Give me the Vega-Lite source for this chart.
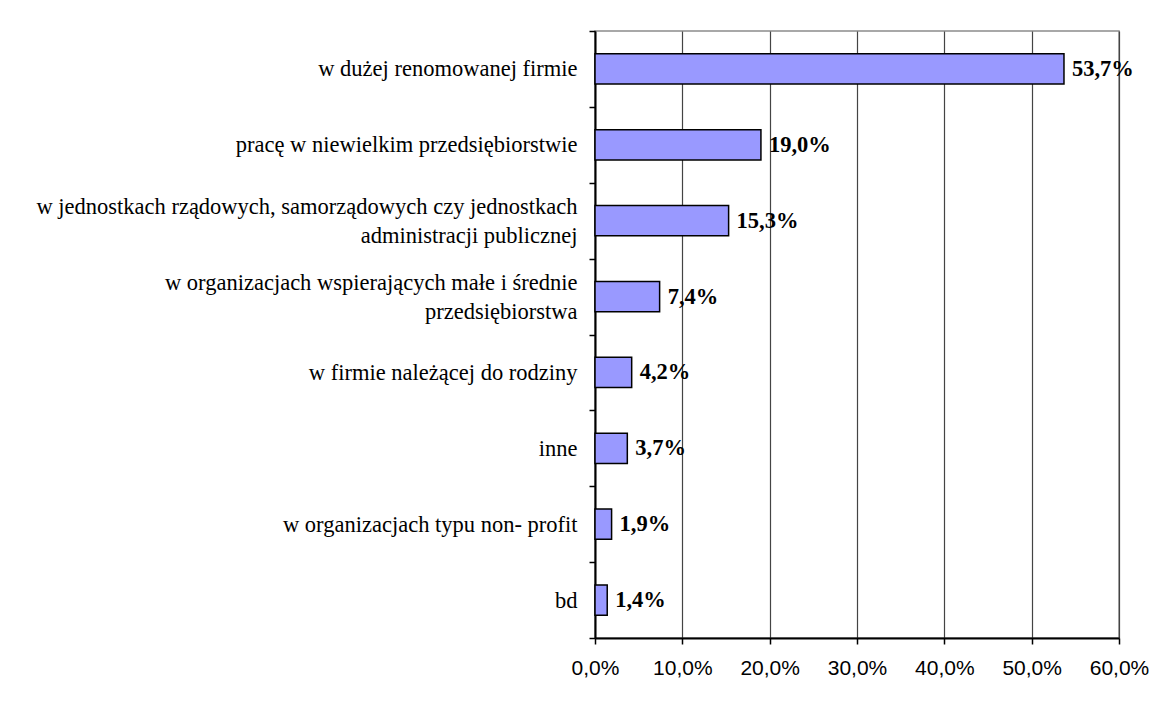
{
  "$schema": "https://vega.github.io/schema/vega-lite/v6.json",
  "width": 524,
  "height": 607,
  "padding": {"left": 35, "top": 20, "right": 0, "bottom": 0},
  "background": "white",
  "config": {
    "locale": {"number": {"decimal": ",", "thousands": " ", "grouping": [3], "currency": ["", " zł"], "percent": "%"}},
    "view": {"stroke": "#8c8c8c", "strokeWidth": 1.5}
  },
  "data": {"values": [
    {"kategoria": "w dużej renomowanej firmie", "odsetek": 0.537},
    {"kategoria": "pracę w niewielkim przedsiębiorstwie", "odsetek": 0.19},
    {"kategoria": "w jednostkach rządowych, samorządowych czy jednostkach\nadministracji publicznej", "odsetek": 0.153},
    {"kategoria": "w organizacjach wspierających małe i średnie\nprzedsiębiorstwa", "odsetek": 0.074},
    {"kategoria": "w firmie należącej do rodziny", "odsetek": 0.042},
    {"kategoria": "inne", "odsetek": 0.037},
    {"kategoria": "w organizacjach typu non- profit", "odsetek": 0.019},
    {"kategoria": "bd", "odsetek": 0.014}
  ]},
  "encoding": {
    "y": {
      "field": "kategoria", "type": "nominal", "sort": null,
      "scale": {"paddingInner": 0, "paddingOuter": 0},
      "axis": {
        "title": null,
        "labelExpr": "isValid(datum.value) ? split(datum.value, '\\n') : ''",
        "labelFont": "Liberation Serif", "labelFontSize": 22.5, "labelColor": "#000",
        "labelLineHeight": 29, "labelPadding": 12, "labelLimit": 0,
        "labelOffset": {"condition": {"test": "isValid(datum.value) && indexof(datum.value, '\\n') >= 0", "value": -14.5}, "value": 0},
        "tickSize": 6, "tickColor": "#000", "tickWidth": 1.5, "tickBand": "extent",
        "domainColor": "#000", "domainWidth": 2, "grid": false
      }
    },
    "x": {
      "field": "odsetek", "type": "quantitative",
      "scale": {"domain": [0, 0.6], "nice": false},
      "axis": {
        "title": null,
        "values": [0, 0.1, 0.2, 0.3, 0.4, 0.5, 0.6],
        "format": ".1%",
        "labelFont": "Liberation Sans", "labelFontSize": 21, "labelColor": "#000",
        "labelFlush": false, "labelOverlap": false, "labelPadding": 13.5,
        "tickSize": 6, "tickColor": "#000", "tickWidth": 1.5,
        "domainColor": "#000", "domainWidth": 2,
        "grid": true, "gridColor": "#444444", "gridWidth": 1.2
      }
    }
  },
  "layer": [
    {"mark": {"type": "bar", "fill": "#9999FF", "stroke": "#000", "strokeWidth": 1.5, "height": {"band": 0.4}}},
    {
      "mark": {"type": "text", "align": "left", "baseline": "middle", "dx": 8, "font": "Liberation Serif", "fontSize": 22.5, "fontWeight": "bold", "color": "#000"},
      "encoding": {"text": {"field": "odsetek", "type": "quantitative", "format": ".1%"}}
    }
  ]
}
